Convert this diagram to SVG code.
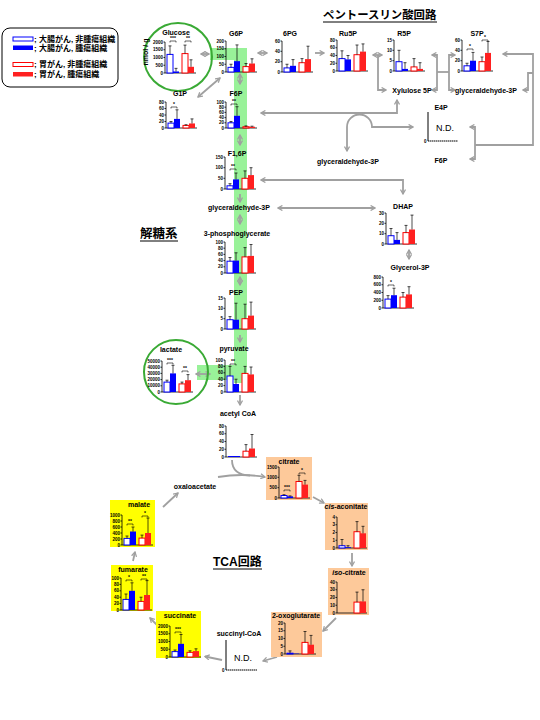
<svg xmlns="http://www.w3.org/2000/svg" width="540" height="720" viewBox="0 0 540 720">
<defs>
<style>
.ax{stroke:#000;stroke-width:0.8;fill:none}
.tk{font-family:"Liberation Sans",Arial,sans-serif;font-size:4.5px;font-weight:bold;text-anchor:end}
.lb{font-family:"Liberation Sans",Arial,sans-serif;font-size:7px;font-weight:bold;text-anchor:middle}
.bo{fill:#fff;stroke:#0000ff;stroke-width:1}
.bf{fill:#0000ff}
.ro{fill:#fff;stroke:#ff0000;stroke-width:1}
.rf{fill:#ff2020}
.eb{stroke:#000;stroke-width:0.7;fill:none}
.br{stroke:#000;stroke-width:0.6;fill:none}
.st{font-family:"Liberation Sans",Arial,sans-serif;font-size:5px;font-weight:bold;text-anchor:middle}
.c{stroke:#a0a0a0;stroke-width:1.8;fill:none}
.a2{marker-start:url(#ah);marker-end:url(#ah)}
.a1{marker-end:url(#ah)}
.ttl{font-family:"Liberation Sans","Noto Sans CJK JP",sans-serif;font-weight:bold}
.nd{font-family:"Liberation Sans",Arial,sans-serif;font-size:9px}
.org{fill:#fdc99a}
.yel{fill:#ffff00}
</style>
<marker id="ah" viewBox="0 0 10 10" refX="8" refY="5" markerWidth="3.5" markerHeight="3.5" orient="auto-start-reverse"><path d="M1,1 L8,5 L1,9" fill="none" stroke="#a0a0a0" stroke-width="2"/></marker>
</defs>
<rect width="540" height="720" fill="#fff"/>

<!-- green band -->
<path d="M210,48 H247 V383 H234 V380 H197 V365 H234 V60 H210 Z" fill="#99f299"/>

<!-- titles -->
<g id="titles">
<text class="ttl" x="323" y="19" font-size="11.4">ペントースリン酸回路</text>
<line x1="323" y1="22" x2="437" y2="22" stroke="#000" stroke-width="1"/>
<text class="ttl" x="140" y="238" font-size="12.5">解糖系</text>
<line x1="140" y1="241" x2="178" y2="241" stroke="#000" stroke-width="1"/>
<text class="ttl" x="213" y="566" font-size="12">TCA回路</text>
<line x1="213" y1="569" x2="262" y2="569" stroke="#000" stroke-width="1"/>
</g>

<!-- legend -->
<g id="legend">
<rect x="2" y="28" width="116" height="59" rx="8" fill="#fff" stroke="#000" stroke-width="1"/>
<rect x="13" y="37" width="20" height="4" class="bo"/>
<rect x="13" y="45.5" width="20" height="4.5" class="bf"/>
<rect x="13" y="62.5" width="20" height="4" class="ro"/>
<rect x="13" y="72" width="20" height="4.5" class="rf"/>
<text class="ttl" font-size="8" x="34" y="42">; 大腸がん, 非腫瘍組織</text>
<text class="ttl" font-size="8" x="34" y="51">; 大腸がん, 腫瘍組織</text>
<text class="ttl" font-size="8" x="34" y="67">; 胃がん, 非腫瘍組織</text>
<text class="ttl" font-size="8" x="34" y="77">; 胃がん, 腫瘍組織</text>
</g>

<!-- connectors -->
<g id="connectors">
<path class="c a2" d="M201,54 H209"/>
<path class="c a2" d="M258,53 H267"/>
<path class="c a1" d="M315,53 H324"/>
<path class="c a2" d="M373,55 H382"/>
<path class="c a1" d="M378,55 V90 H386"/>
<path class="c a2" d="M432,55 H437 V90 H432"/>
<path class="c a2" d="M455,55 H449 V90 H455"/>
<path class="c" d="M437,72 H449"/>
<path class="c" d="M503,54 H533 V145 H475" marker-start="url(#ah)"/>
<path class="c a1" d="M533,73 H528 V90 H523"/>
<path class="c a2" d="M470,127 H475 V159 H470"/>
<path class="c a2" d="M198,97 L220,78"/>
<path class="c a2" d="M240,74 V84"/>
<path class="c a2" d="M240,135 V145"/>
<path class="c a1" d="M240,194 V202"/>
<path class="c a2" d="M240,215 V224"/>
<path class="c a2" d="M240,277 V285"/>
<path class="c a1" d="M240,335 V342"/>
<path class="c a2" d="M196,374 H210"/>
<path class="c a1" d="M240,395 V405"/>
<path class="c a2" d="M261,180 H403 V194"/>
<path class="c a2" d="M278,208 H375"/>
<path class="c a2" d="M409,250 V259"/>
<path class="c a2" d="M397,100 V113 H261"/>
<path class="c a2" d="M347,151 V127 A12.5,12.5 0 0 1 372,127 H413"/>
<path class="c a1" d="M218,477 Q242,473 265,477"/>
<path class="c" d="M232,460 C232,470 238,475 250,475.5"/>
<path class="c a1" d="M163,507 L178,493"/>
<path class="c a1" d="M313,497 L324,503"/>
<path class="c a1" d="M352,553 V566"/>
<path class="c a1" d="M336,618 L323,631"/>
<path class="c a1" d="M277,657 L263,661"/>
<path class="c a1" d="M222,660 L205,656.5"/>
<path class="c a1" d="M157,625 L150,618"/>
<path class="c a1" d="M133,561 L135,552"/>
</g>

<!-- Glucose -->
<g id="glucose">
<circle cx="178" cy="57" r="34" fill="none" stroke="#3aaa35" stroke-width="2"/>
<text class="lb" x="176" y="35" font-size="7.5">Glucose</text>
<text class="lb" font-size="5" transform="translate(148,52) rotate(-90)">nmol / g</text>
<g transform="translate(165,73)">
<path class="ax" d="M0,-31V0H31M-1.5,0H0M-1.5,-7.75H0M-1.5,-15.5H0M-1.5,-23.25H0M-1.5,-31H0"/>
<text class="tk" x="-2" y="1.5">0</text><text class="tk" x="-2" y="-6.25">500</text><text class="tk" x="-2" y="-14">1000</text><text class="tk" x="-2" y="-21.75">1500</text><text class="tk" x="-2" y="-29.5">2000</text>
<rect class="bo" x="2" y="-18.6" width="6" height="18.6"/><rect class="bf" x="8" y="-1.55" width="6" height="1.55"/><rect class="ro" x="17" y="-19.4" width="6" height="19.4"/><rect class="rf" x="23" y="-6.2" width="6" height="6.2"/>
<path class="eb" d="M5,-18.6V-27.1M3.5,-27.1H6.5M11,-1.55V-4.65M9.5,-4.65H12.5M20,-19.4V-27.9M18.5,-27.9H21.5M26,-6.2V-13.2M24.5,-13.2H27.5"/>
<path class="br" d="M5,-30.5V-32H11V-30.5M20,-30.5V-32H26V-30.5"/>
<text class="st" x="8" y="-33">***</text><text class="st" x="23" y="-33">**</text>
</g>
</g>

<!-- G6P -->
<g id="g6p">
<text class="lb" x="236" y="36">G6P</text>
<g transform="translate(226,72)">
<path class="ax" d="M0,-31V0H31M-1.5,0H0M-1.5,-7.75H0M-1.5,-15.5H0M-1.5,-23.25H0M-1.5,-31H0"/>
<text class="tk" x="-2" y="1.5">0</text><text class="tk" x="-2" y="-6.25">50</text><text class="tk" x="-2" y="-14">100</text><text class="tk" x="-2" y="-21.75">150</text><text class="tk" x="-2" y="-29.5">200</text>
<rect class="bo" x="2" y="-4.65" width="6" height="4.65"/><rect class="bf" x="8" y="-10.85" width="6" height="10.85"/><rect class="ro" x="17" y="-5.4" width="6" height="5.4"/><rect class="rf" x="23" y="-8.5" width="6" height="8.5"/>
<path class="eb" d="M5,-4.65V-7.75M3.5,-7.75H6.5M11,-10.85V-27.1M9.5,-27.1H12.5M20,-5.4V-8.5M18.5,-8.5H21.5M26,-8.5V-13.2M24.5,-13.2H27.5"/>
</g>
</g>

<!-- 6PG -->
<g id="pg6">
<text class="lb" x="290" y="36">6PG</text>
<g transform="translate(282,72)">
<path class="ax" d="M0,-31V0H31M-1.5,0H0M-1.5,-10.3H0M-1.5,-20.7H0M-1.5,-31H0"/>
<text class="tk" x="-2" y="1.5">0</text><text class="tk" x="-2" y="-8.8">20</text><text class="tk" x="-2" y="-19.2">40</text><text class="tk" x="-2" y="-29.5">60</text>
<rect class="bo" x="2" y="-4.1" width="6" height="4.1"/><rect class="bf" x="8" y="-6.2" width="6" height="6.2"/><rect class="ro" x="17" y="-9.3" width="6" height="9.3"/><rect class="rf" x="23" y="-12.9" width="6" height="12.9"/>
<path class="eb" d="M5,-4.1V-7.75M3.5,-7.75H6.5M11,-6.2V-12.4M9.5,-12.4H12.5M20,-9.3V-13.4M18.5,-13.4H21.5M26,-12.9V-25.8M24.5,-25.8H27.5"/>
</g>
</g>

<!-- Ru5P -->
<g id="ru5p">
<text class="lb" x="348" y="36">Ru5P</text>
<g transform="translate(337,71)">
<path class="ax" d="M0,-31V0H31M-1.5,0H0M-1.5,-7.75H0M-1.5,-15.5H0M-1.5,-23.25H0M-1.5,-31H0"/>
<text class="tk" x="-2" y="1.5">0</text><text class="tk" x="-2" y="-6.25">20</text><text class="tk" x="-2" y="-14">40</text><text class="tk" x="-2" y="-21.75">60</text><text class="tk" x="-2" y="-29.5">80</text>
<rect class="bo" x="2" y="-12.4" width="6" height="12.4"/><rect class="bf" x="8" y="-11.6" width="6" height="11.6"/><rect class="ro" x="17" y="-16.3" width="6" height="16.3"/><rect class="rf" x="23" y="-19.4" width="6" height="19.4"/>
<path class="eb" d="M5,-12.4V-20.2M3.5,-20.2H6.5M11,-11.6V-15.5M9.5,-15.5H12.5M20,-16.3V-26M18.5,-26H21.5M26,-19.4V-27.1M24.5,-27.1H27.5"/>
</g>
</g>

<!-- R5P -->
<g id="r5p">
<text class="lb" x="404" y="36">R5P</text>
<g transform="translate(394,71)">
<path class="ax" d="M0,-31V0H31M-1.5,0H0M-1.5,-10.3H0M-1.5,-20.7H0M-1.5,-31H0"/>
<text class="tk" x="-2" y="1.5">0</text><text class="tk" x="-2" y="-8.8">5</text><text class="tk" x="-2" y="-19.2">10</text><text class="tk" x="-2" y="-29.5">15</text>
<rect class="bo" x="2" y="-9.3" width="6" height="9.3"/><rect class="bf" x="8" y="-2.1" width="6" height="2.1"/><rect class="ro" x="17" y="-4.1" width="6" height="4.1"/><rect class="rf" x="23" y="-2.1" width="6" height="2.1"/>
<path class="eb" d="M5,-9.3V-20.7M3.5,-20.7H6.5M11,-2.1V-8.3M9.5,-8.3H12.5M20,-4.1V-12.4M18.5,-12.4H21.5M26,-2.1V-8.3M24.5,-8.3H27.5"/>
</g>
</g>

<!-- S7P -->
<g id="s7p">
<text class="lb" x="477" y="36">S7P</text>
<g transform="translate(462,71)">
<path class="ax" d="M0,-31V0H31M-1.5,0H0M-1.5,-10.3H0M-1.5,-20.7H0M-1.5,-31H0"/>
<text class="tk" x="-2" y="1.5">0</text><text class="tk" x="-2" y="-8.8">20</text><text class="tk" x="-2" y="-19.2">40</text><text class="tk" x="-2" y="-29.5">60</text>
<rect class="bo" x="2" y="-5.2" width="6" height="5.2"/><rect class="bf" x="8" y="-10.3" width="6" height="10.3"/><rect class="ro" x="17" y="-9.3" width="6" height="9.3"/><rect class="rf" x="23" y="-18.1" width="6" height="18.1"/>
<path class="eb" d="M5,-5.2V-7.75M3.5,-7.75H6.5M11,-10.3V-18.6M9.5,-18.6H12.5M20,-9.3V-14M18.5,-14H21.5M26,-18.1V-29.5M24.5,-29.5H27.5"/>
<path class="br" d="M5,-20.5V-22H11V-20.5M20,-29.5V-31H26V-29.5"/>
<text class="st" x="8" y="-23">*</text><text class="st" x="23" y="-32">*</text>
</g>
</g>

<!-- Xylulose 5P, glyceraldehyde-3P (PPP) -->
<g id="xylulose5p"><text class="lb" x="412" y="93">Xylulose 5P</text></g>
<g id="gap-ppp"><text class="lb" x="486" y="93">glyceraldehyde-3P</text></g>

<!-- E4P -->
<g id="e4p">
<text class="lb" x="441" y="110">E4P</text>
<path d="M428,112 V141" stroke="#000" stroke-width="1" fill="none"/>
<path d="M428,141 H458" stroke="#000" stroke-width="1.2" stroke-dasharray="1.5,0.5" fill="none"/>
<text class="tk" x="426.5" y="142.5">0</text>
<text class="nd" x="445" y="131" text-anchor="middle">N.D.</text>
</g>
<g id="f6p-ppp"><text class="lb" x="441" y="163">F6P</text></g>
<g id="gap-center"><text class="lb" x="348" y="164">glyceraldehyde-3P</text></g>

<!-- G1P -->
<g id="g1p">
<text class="lb" x="180" y="96">G1P</text>
<g transform="translate(166,128)">
<path class="ax" d="M0,-26V0H31M-1.5,0H0M-1.5,-6.5H0M-1.5,-13H0M-1.5,-19.5H0M-1.5,-26H0"/>
<text class="tk" x="-2" y="1.5">0</text><text class="tk" x="-2" y="-5">20</text><text class="tk" x="-2" y="-11.5">40</text><text class="tk" x="-2" y="-18">60</text><text class="tk" x="-2" y="-24.5">80</text>
<rect class="bo" x="2" y="-4.9" width="6" height="4.9"/><rect class="bf" x="8" y="-9.1" width="6" height="9.1"/><rect class="ro" x="17" y="-2.6" width="6" height="2.6"/><rect class="rf" x="23" y="-4.55" width="6" height="4.55"/>
<path class="eb" d="M5,-4.9V-6.5M3.5,-6.5H6.5M11,-9.1V-18.2M9.5,-18.2H12.5M20,-2.6V-3.25M18.5,-3.25H21.5M26,-4.55V-9.1M24.5,-9.1H27.5"/>
<path class="br" d="M5,-19.5V-21H11V-19.5"/>
<text class="st" x="8" y="-22">*</text>
</g>
</g>

<!-- F6P -->
<g id="f6p">
<text class="lb" x="236" y="96">F6P</text>
<g transform="translate(226,128)">
<path class="ax" d="M0,-26V0H31M-1.5,0H0M-1.5,-5.2H0M-1.5,-10.4H0M-1.5,-15.6H0M-1.5,-20.8H0M-1.5,-26H0"/>
<text class="tk" x="-2" y="1.5">0</text><text class="tk" x="-2" y="-3.7">20</text><text class="tk" x="-2" y="-8.9">40</text><text class="tk" x="-2" y="-14.1">60</text><text class="tk" x="-2" y="-19.3">80</text><text class="tk" x="-2" y="-24.5">100</text>
<rect class="bo" x="2" y="-5.2" width="6" height="5.2"/><rect class="bf" x="8" y="-12.2" width="6" height="12.2"/><rect class="ro" x="17" y="-1.3" width="6" height="1.3"/><rect class="rf" x="23" y="-1.3" width="6" height="1.3"/>
<path class="eb" d="M5,-5.2V-6.5M3.5,-6.5H6.5M11,-12.2V-21.3M9.5,-21.3H12.5M20,-1.3V-2.1M18.5,-2.1H21.5M26,-1.3V-1.8M24.5,-1.8H27.5"/>
<path class="br" d="M5,-22.5V-24H11V-22.5"/>
<text class="st" x="8" y="-25">**</text>
</g>
</g>

<!-- F1,6P -->
<g id="f16p">
<text class="lb" x="237" y="156">F1,6P</text>
<g transform="translate(225,189)">
<path class="ax" d="M0,-32V0H31M-1.5,0H0M-1.5,-10.7H0M-1.5,-21.3H0M-1.5,-32H0"/>
<text class="tk" x="-2" y="1.5">0</text><text class="tk" x="-2" y="-9.2">50</text><text class="tk" x="-2" y="-19.8">100</text><text class="tk" x="-2" y="-30.5">150</text>
<rect class="bo" x="2" y="-3.2" width="6" height="3.2"/><rect class="bf" x="8" y="-9.6" width="6" height="9.6"/><rect class="ro" x="17" y="-10.7" width="6" height="10.7"/><rect class="rf" x="23" y="-13.9" width="6" height="13.9"/>
<path class="eb" d="M5,-3.2V-5.3M3.5,-5.3H6.5M11,-9.6V-16M9.5,-16H12.5M20,-10.7V-18.1M18.5,-18.1H21.5M26,-13.9V-21.3M24.5,-21.3H27.5"/>
<path class="br" d="M5,-18.5V-20H11V-18.5"/>
<text class="st" x="8" y="-21">**</text>
</g>
</g>

<g id="gap-glyc"><text class="lb" x="239" y="210">glyceraldehyde-3P</text></g>

<!-- 3-phosphoglycerate -->
<g id="pg3">
<text class="lb" x="237" y="236">3-phosphoglycerate</text>
<g transform="translate(225,273)">
<path class="ax" d="M0,-31V0H31M-1.5,0H0M-1.5,-6.2H0M-1.5,-12.4H0M-1.5,-18.6H0M-1.5,-24.8H0M-1.5,-31H0"/>
<text class="tk" x="-2" y="1.5">0</text><text class="tk" x="-2" y="-4.7">20</text><text class="tk" x="-2" y="-10.9">40</text><text class="tk" x="-2" y="-17.1">60</text><text class="tk" x="-2" y="-23.3">80</text><text class="tk" x="-2" y="-29.5">100</text>
<rect class="bo" x="2" y="-11.8" width="6" height="11.8"/><rect class="bf" x="8" y="-12.4" width="6" height="12.4"/><rect class="ro" x="17" y="-16.1" width="6" height="16.1"/><rect class="rf" x="23" y="-17.1" width="6" height="17.1"/>
<path class="eb" d="M5,-11.8V-15.5M3.5,-15.5H6.5M11,-12.4V-20.2M9.5,-20.2H12.5M20,-16.1V-25.4M18.5,-25.4H21.5M26,-17.1V-28.5M24.5,-28.5H27.5"/>
</g>
</g>

<!-- PEP -->
<g id="pep">
<text class="lb" x="236" y="295">PEP</text>
<g transform="translate(225,329)">
<path class="ax" d="M0,-31V0H31M-1.5,0H0M-1.5,-10.3H0M-1.5,-20.7H0M-1.5,-31H0"/>
<text class="tk" x="-2" y="1.5">0</text><text class="tk" x="-2" y="-8.8">5</text><text class="tk" x="-2" y="-19.2">10</text><text class="tk" x="-2" y="-29.5">15</text>
<rect class="bo" x="2" y="-9.3" width="6" height="9.3"/><rect class="bf" x="8" y="-9.3" width="6" height="9.3"/><rect class="ro" x="17" y="-10.3" width="6" height="10.3"/><rect class="rf" x="23" y="-13.4" width="6" height="13.4"/>
<path class="eb" d="M5,-9.3V-12.4M3.5,-12.4H6.5M11,-9.3V-25.8M9.5,-25.8H12.5M20,-10.3V-24.8M18.5,-24.8H21.5M26,-13.4V-26.9M24.5,-26.9H27.5"/>
</g>
</g>

<!-- pyruvate -->
<g id="pyruvate">
<text class="lb" x="234" y="351">pyruvate</text>
<g transform="translate(225,392)">
<path class="ax" d="M0,-32V0H31M-1.5,0H0M-1.5,-6.4H0M-1.5,-12.8H0M-1.5,-19.2H0M-1.5,-25.6H0M-1.5,-32H0"/>
<text class="tk" x="-2" y="1.5">0</text><text class="tk" x="-2" y="-4.9">20</text><text class="tk" x="-2" y="-11.3">40</text><text class="tk" x="-2" y="-17.7">60</text><text class="tk" x="-2" y="-24.1">80</text><text class="tk" x="-2" y="-30.5">100</text>
<rect class="bo" x="2" y="-16" width="6" height="16"/><rect class="bf" x="8" y="-8" width="6" height="8"/><rect class="ro" x="17" y="-18.6" width="6" height="18.6"/><rect class="rf" x="23" y="-17.6" width="6" height="17.6"/>
<path class="eb" d="M5,-16V-25.6M3.5,-25.6H6.5M11,-8V-12.8M9.5,-12.8H12.5M20,-18.6V-25.6M18.5,-25.6H21.5M26,-17.6V-25M24.5,-25H27.5"/>
<path class="br" d="M5,-26.5V-28H11V-26.5"/>
<text class="st" x="8" y="-29">**</text>
</g>
</g>

<!-- lactate -->
<g id="lactate">
<circle cx="176" cy="372" r="32" fill="none" stroke="#3aaa35" stroke-width="2"/>
<text class="lb" x="171" y="352">lactate</text>
<g transform="translate(162,392)">
<path class="ax" d="M0,-31V0H31M-1.5,0H0M-1.5,-6.2H0M-1.5,-12.4H0M-1.5,-18.6H0M-1.5,-24.8H0M-1.5,-31H0"/>
<text class="tk" x="-2" y="1.5">0</text><text class="tk" x="-2" y="-4.7">10000</text><text class="tk" x="-2" y="-10.9">20000</text><text class="tk" x="-2" y="-17.1">30000</text><text class="tk" x="-2" y="-23.3">40000</text><text class="tk" x="-2" y="-29.5">50000</text>
<rect class="bo" x="2" y="-9.9" width="6" height="9.9"/><rect class="bf" x="8" y="-18.6" width="6" height="18.6"/><rect class="ro" x="17" y="-8.1" width="6" height="8.1"/><rect class="rf" x="23" y="-11.8" width="6" height="11.8"/>
<path class="eb" d="M5,-9.9V-11.8M3.5,-11.8H6.5M11,-18.6V-26.7M9.5,-26.7H12.5M20,-8.1V-9.9M18.5,-9.9H21.5M26,-11.8V-17.4M24.5,-17.4H27.5"/>
<path class="br" d="M5,-27.5V-29H11V-27.5M20,-19.5V-21H26V-19.5"/>
<text class="st" x="8" y="-30">***</text><text class="st" x="23" y="-22">**</text>
</g>
</g>

<!-- DHAP -->
<g id="dhap">
<text class="lb" x="403" y="209">DHAP</text>
<g transform="translate(386,244)">
<path class="ax" d="M0,-31V0H31M-1.5,0H0M-1.5,-10.3H0M-1.5,-20.7H0M-1.5,-31H0"/>
<text class="tk" x="-2" y="1.5">0</text><text class="tk" x="-2" y="-8.8">10</text><text class="tk" x="-2" y="-19.2">20</text><text class="tk" x="-2" y="-29.5">30</text>
<rect class="bo" x="2" y="-8.3" width="6" height="8.3"/><rect class="bf" x="8" y="-4.1" width="6" height="4.1"/><rect class="ro" x="17" y="-11.4" width="6" height="11.4"/><rect class="rf" x="23" y="-14.5" width="6" height="14.5"/>
<path class="eb" d="M5,-8.3V-15.5M3.5,-15.5H6.5M11,-4.1V-11.4M9.5,-11.4H12.5M20,-11.4V-18.6M18.5,-18.6H21.5M26,-14.5V-28.9M24.5,-28.9H27.5"/>
</g>
</g>

<!-- Glycerol-3P -->
<g id="glycerol3p">
<text class="lb" x="410" y="270">Glycerol-3P</text>
<g transform="translate(383,308)">
<path class="ax" d="M0,-31V0H31M-1.5,0H0M-1.5,-7.75H0M-1.5,-15.5H0M-1.5,-23.25H0M-1.5,-31H0"/>
<text class="tk" x="-2" y="1.5">0</text><text class="tk" x="-2" y="-6.25">200</text><text class="tk" x="-2" y="-14">400</text><text class="tk" x="-2" y="-21.75">600</text><text class="tk" x="-2" y="-29.5">800</text>
<rect class="bo" x="2" y="-8.9" width="6" height="8.9"/><rect class="bf" x="8" y="-12.8" width="6" height="12.8"/><rect class="ro" x="17" y="-10.9" width="6" height="10.9"/><rect class="rf" x="23" y="-13.6" width="6" height="13.6"/>
<path class="eb" d="M5,-8.9V-12.4M3.5,-12.4H6.5M11,-12.8V-19.8M9.5,-19.8H12.5M20,-10.9V-15.5M18.5,-15.5H21.5M26,-13.6V-21.3M24.5,-21.3H27.5"/>
<path class="br" d="M5,-21.5V-23H11V-21.5"/>
<text class="st" x="8" y="-24">*</text>
</g>
</g>

<!-- acetyl CoA -->
<g id="acetylcoa">
<text class="lb" x="238" y="416">acetyl CoA</text>
<g transform="translate(226,457)">
<path class="ax" d="M0,-31V0H31M-1.5,0H0M-1.5,-7.75H0M-1.5,-15.5H0M-1.5,-23.25H0M-1.5,-31H0"/>
<text class="tk" x="-2" y="1.5">0</text><text class="tk" x="-2" y="-6.25">20</text><text class="tk" x="-2" y="-14">40</text><text class="tk" x="-2" y="-21.75">60</text><text class="tk" x="-2" y="-29.5">80</text>
<rect class="bf" x="2" y="-1" width="6" height="1"/><rect class="bf" x="8" y="-1" width="6" height="1"/><rect class="ro" x="17" y="-5.8" width="6" height="5.8"/><rect class="rf" x="23" y="-8.5" width="6" height="8.5"/>
<path class="eb" d="M20,-5.8V-12.4M18.5,-12.4H21.5M26,-8.5V-22.5M24.5,-22.5H27.5"/>
</g>
</g>

<g id="oxaloacetate"><text class="lb" x="195" y="489">oxaloacetate</text></g>

<!-- citrate -->
<g id="citrate">
<rect class="org" x="266" y="457" width="46" height="43"/>
<text class="lb" x="289" y="464">citrate</text>
<g transform="translate(279,498)">
<path class="ax" d="M0,-31V0H31M-1.5,0H0M-1.5,-10.3H0M-1.5,-20.7H0M-1.5,-31H0"/>
<text class="tk" x="-2" y="1.5">0</text><text class="tk" x="-2" y="-8.8">500</text><text class="tk" x="-2" y="-19.2">1000</text><text class="tk" x="-2" y="-29.5">1500</text>
<rect class="bo" x="2" y="-2.5" width="6" height="2.5"/><rect class="bf" x="8" y="-1.65" width="6" height="1.65"/><rect class="ro" x="17" y="-16.5" width="6" height="16.5"/><rect class="rf" x="23" y="-13.4" width="6" height="13.4"/>
<path class="eb" d="M5,-2.5V-3.3M3.5,-3.3H6.5M11,-1.65V-2.1M9.5,-2.1H12.5M20,-16.5V-22.7M18.5,-22.7H21.5M26,-13.4V-17.6M24.5,-17.6H27.5"/>
<path class="br" d="M5,-6.5V-8H11V-6.5M20,-23.5V-25H26V-23.5"/>
<text class="st" x="8" y="-9">***</text><text class="st" x="23" y="-26">*</text>
</g>
</g>

<!-- cis-aconitate -->
<g id="cisaconitate">
<rect class="org" x="325" y="503" width="43" height="47"/>
<text class="lb" x="346" y="509"><tspan font-style="italic">cis</tspan>-aconitate</text>
<g transform="translate(337,548)">
<path class="ax" d="M0,-31V0H30M-1.5,0H0M-1.5,-7.75H0M-1.5,-15.5H0M-1.5,-23.25H0M-1.5,-31H0"/>
<text class="tk" x="-2" y="1.5">0</text><text class="tk" x="-2" y="-6.25">1</text><text class="tk" x="-2" y="-14">2</text><text class="tk" x="-2" y="-21.75">3</text><text class="tk" x="-2" y="-29.5">4</text>
<rect class="bo" x="2" y="-2.3" width="6" height="2.3"/><rect class="bf" x="8" y="-0.8" width="6" height="0.8"/><rect class="ro" x="17" y="-16.3" width="6" height="16.3"/><rect class="rf" x="23" y="-14.7" width="6" height="14.7"/>
<path class="eb" d="M5,-2.3V-8.5M3.5,-8.5H6.5M11,-0.8V-2.3M9.5,-2.3H12.5M20,-16.3V-26.4M18.5,-26.4H21.5M26,-14.7V-21.7M24.5,-21.7H27.5"/>
</g>
</g>

<!-- iso-citrate -->
<g id="isocitrate">
<rect class="org" x="328" y="568" width="41" height="47"/>
<text class="lb" x="349" y="575"><tspan font-style="italic">iso</tspan>-citrate</text>
<g transform="translate(337,613)">
<path class="ax" d="M0,-31V0H30M-1.5,0H0M-1.5,-7.75H0M-1.5,-15.5H0M-1.5,-23.25H0M-1.5,-31H0"/>
<text class="tk" x="-2" y="1.5">0</text><text class="tk" x="-2" y="-6.25">10</text><text class="tk" x="-2" y="-14">20</text><text class="tk" x="-2" y="-21.75">30</text><text class="tk" x="-2" y="-29.5">40</text>
<rect class="ro" x="17" y="-10.9" width="6" height="10.9"/><rect class="rf" x="23" y="-11.6" width="6" height="11.6"/>
<path class="eb" d="M20,-10.9V-20.9M18.5,-20.9H21.5M26,-11.6V-23.25M24.5,-23.25H27.5"/>
</g>
</g>

<!-- 2-oxoglutarate -->
<g id="oxoglutarate">
<rect class="org" x="271" y="612" width="51" height="45"/>
<text class="lb" x="296" y="618" font-size="6.6">2-oxoglutarate</text>
<g transform="translate(285,654)">
<path class="ax" d="M0,-31V0H31M-1.5,0H0M-1.5,-7.75H0M-1.5,-15.5H0M-1.5,-23.25H0M-1.5,-31H0"/>
<text class="tk" x="-2" y="1.5">0</text><text class="tk" x="-2" y="-6.25">5</text><text class="tk" x="-2" y="-14">10</text><text class="tk" x="-2" y="-21.75">15</text><text class="tk" x="-2" y="-29.5">20</text>
<rect class="bo" x="2" y="-0.8" width="6" height="0.8"/><rect class="bf" x="8" y="-0.4" width="6" height="0.4"/><rect class="ro" x="17" y="-11.6" width="6" height="11.6"/><rect class="rf" x="23" y="-9.3" width="6" height="9.3"/>
<path class="eb" d="M5,-0.8V-3.1M3.5,-3.1H6.5M20,-11.6V-22.5M18.5,-22.5H21.5M26,-9.3V-18.6M24.5,-18.6H27.5"/>
</g>
</g>

<!-- succinyl-CoA -->
<g id="succinylcoa">
<text class="lb" x="239" y="636">succinyl-CoA</text>
<path d="M226,640 V670" stroke="#000" stroke-width="1" fill="none"/>
<path d="M226,670 H257" stroke="#000" stroke-width="1.2" stroke-dasharray="1.5,0.5" fill="none"/>
<text class="tk" x="224.5" y="671.5">0</text>
<text class="nd" x="243" y="661" text-anchor="middle">N.D.</text>
</g>

<!-- succinate -->
<g id="succinate">
<rect class="yel" x="156" y="611" width="45" height="47"/>
<text class="lb" x="180" y="618">succinate</text>
<g transform="translate(170,657)">
<path class="ax" d="M0,-31V0H31M-1.5,0H0M-1.5,-7.75H0M-1.5,-15.5H0M-1.5,-23.25H0M-1.5,-31H0"/>
<text class="tk" x="-2" y="1.5">0</text><text class="tk" x="-2" y="-6.25">500</text><text class="tk" x="-2" y="-14">1000</text><text class="tk" x="-2" y="-21.75">1500</text><text class="tk" x="-2" y="-29.5">2000</text>
<rect class="bo" x="2" y="-5.4" width="6" height="5.4"/><rect class="bf" x="8" y="-13.2" width="6" height="13.2"/><rect class="ro" x="17" y="-4.65" width="6" height="4.65"/><rect class="rf" x="23" y="-5.9" width="6" height="5.9"/>
<path class="eb" d="M5,-5.4V-7M3.5,-7H6.5M11,-13.2V-22.5M9.5,-22.5H12.5M20,-4.65V-6.2M18.5,-6.2H21.5M26,-5.9V-8.2M24.5,-8.2H27.5"/>
<path class="br" d="M5,-23.5V-25H11V-23.5"/>
<text class="st" x="8" y="-26">***</text>
</g>
</g>

<!-- fumarate -->
<g id="fumarate">
<rect class="yel" x="111" y="565" width="42" height="46"/>
<text class="lb" x="133" y="572">fumarate</text>
<g transform="translate(121,610)">
<path class="ax" d="M0,-32V0H31M-1.5,0H0M-1.5,-6.4H0M-1.5,-12.8H0M-1.5,-19.2H0M-1.5,-25.6H0M-1.5,-32H0"/>
<text class="tk" x="-2" y="1.5">0</text><text class="tk" x="-2" y="-4.9">20</text><text class="tk" x="-2" y="-11.3">40</text><text class="tk" x="-2" y="-17.7">60</text><text class="tk" x="-2" y="-24.1">80</text><text class="tk" x="-2" y="-30.5">100</text>
<rect class="bo" x="2" y="-10.6" width="6" height="10.6"/><rect class="bf" x="8" y="-19.2" width="6" height="19.2"/><rect class="ro" x="17" y="-8.6" width="6" height="8.6"/><rect class="rf" x="23" y="-15" width="6" height="15"/>
<path class="eb" d="M5,-10.6V-16M3.5,-16H6.5M11,-19.2V-27.2M9.5,-27.2H12.5M20,-8.6V-12.8M18.5,-12.8H21.5M26,-15V-29.4M24.5,-29.4H27.5"/>
<path class="br" d="M5,-28.5V-30H11V-28.5M20,-29.5V-31H26V-29.5"/>
<text class="st" x="8" y="-31">*</text><text class="st" x="23" y="-32">**</text>
</g>
</g>

<!-- malate -->
<g id="malate">
<rect class="yel" x="110" y="500" width="45" height="47"/>
<text class="lb" x="139" y="507">malate</text>
<g transform="translate(122,545)">
<path class="ax" d="M0,-30V0H31M-1.5,0H0M-1.5,-6H0M-1.5,-12H0M-1.5,-18H0M-1.5,-24H0M-1.5,-30H0"/>
<text class="tk" x="-2" y="1.5">0</text><text class="tk" x="-2" y="-4.5">200</text><text class="tk" x="-2" y="-10.5">400</text><text class="tk" x="-2" y="-16.5">600</text><text class="tk" x="-2" y="-22.5">800</text><text class="tk" x="-2" y="-28.5">1000</text>
<rect class="bo" x="2" y="-6.6" width="6" height="6.6"/><rect class="bf" x="8" y="-13.5" width="6" height="13.5"/><rect class="ro" x="17" y="-6.9" width="6" height="6.9"/><rect class="rf" x="23" y="-12" width="6" height="12"/>
<path class="eb" d="M5,-6.6V-9M3.5,-9H6.5M11,-13.5V-18M9.5,-18H12.5M20,-6.9V-9.9M18.5,-9.9H21.5M26,-12V-27M24.5,-27H27.5"/>
<path class="br" d="M5,-19.5V-21H11V-19.5M20,-27.5V-29H26V-27.5"/>
<text class="st" x="8" y="-22">**</text><text class="st" x="23" y="-30">*</text>
</g>
</g>
</svg>
